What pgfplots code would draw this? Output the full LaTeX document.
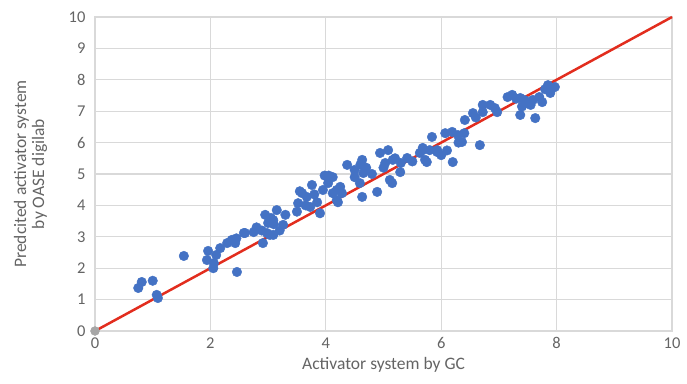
\documentclass[border=0pt]{standalone}
\usepackage{pgfplots}
\pgfplotsset{compat=1.18}
\usepackage{fontspec}
\setmainfont{Carlito}
\definecolor{ptblue}{RGB}{68,114,196}
\definecolor{linered}{RGB}{226,45,30}
\definecolor{gridgray}{RGB}{217,217,217}
\definecolor{txtgray}{RGB}{100,100,100}
\begin{document}
\begin{tikzpicture}
\useasboundingbox (-95pt,-52pt) rectangle (592pt,331pt);
\begin{axis}[
  at={(0,0)}, anchor=south west,
  scale only axis, width=577pt, height=314pt,
  xmin=0, xmax=10, ymin=0, ymax=10,
  xtick={0,2,4,6,8,10}, ytick={0,1,...,10},
  grid=major, major grid style={gridgray, line width=1.2pt},
  axis line style={gridgray, line width=1.2pt},
  tick style={draw=none},
  ticklabel style={font=\fontsize{16.5}{18}\selectfont, text=txtgray},
  /pgf/number format/assume math mode=true,
  xticklabel style={yshift=-3pt},
  yticklabel style={xshift=-6pt},
  xlabel={Activator system by GC},
  ylabel={\begin{tabular}{c}Predcited activator system\\[-1pt] by OASE digilab\end{tabular}},
  xlabel style={font=\fontsize{17.5}{19}\selectfont, text=txtgray, yshift=-2pt},
  ylabel style={font=\fontsize{17.5}{19}\selectfont, text=txtgray, yshift=12pt},
  clip=false,
]
\addplot[linered, line width=2.5pt] coordinates {(0,0) (10,10)};
\addplot[only marks, mark=*, mark size=4.8pt, mark options={fill=ptblue, draw=ptblue}] table {
x y
0.75 1.37
0.81 1.56
1.00 1.60
1.07 1.15
1.09 1.05
1.54 2.39
1.96 2.55
1.94 2.26
2.05 2.00
2.06 2.16
2.10 2.42
2.17 2.64
2.29 2.80
2.37 2.90
2.43 2.80
2.46 1.88
2.58 3.12
2.45 2.95
2.60 3.12
2.80 3.30
2.75 3.15
2.89 3.20
2.91 2.80
2.95 3.70
3.00 3.44
3.03 3.06
3.09 3.53
3.09 3.06
3.15 3.85
3.20 3.20
3.26 3.38
2.98 3.12
3.05 3.60
3.10 3.40
3.30 3.70
3.50 3.80
3.52 4.07
3.59 4.39
3.67 4.27
3.76 4.65
3.73 3.95
3.85 4.10
3.90 3.75
3.95 4.49
4.04 4.71
4.12 4.39
4.21 4.10
4.25 4.59
3.55 4.45
3.65 4.00
3.80 4.35
3.98 4.95
4.05 4.95
4.12 4.90
4.19 4.49
4.19 4.17
4.28 4.39
4.37 5.29
4.50 5.13
4.63 5.45
4.65 5.03
4.59 4.71
4.63 4.27
4.89 4.43
4.50 4.90
4.60 5.30
4.70 5.20
4.80 5.00
4.94 5.67
5.08 5.76
5.03 5.35
5.16 5.45
5.11 4.81
5.15 4.71
5.00 5.20
5.20 5.50
5.30 5.35
5.29 5.06
5.41 5.51
5.50 5.40
5.63 5.67
5.68 5.83
5.80 5.76
5.93 5.70
5.75 5.38
5.68 5.76
5.72 5.45
5.84 6.18
5.93 5.76
6.00 5.60
6.10 5.75
6.07 6.30
6.19 6.34
6.20 5.38
6.29 6.24
6.30 6.00
6.36 6.02
6.40 6.30
6.67 5.92
6.41 6.72
6.55 6.94
6.60 6.80
6.72 6.97
6.97 6.97
7.37 6.88
7.63 6.78
6.72 7.20
6.85 7.20
6.93 7.10
7.15 7.45
7.23 7.52
7.30 7.40
7.37 7.42
7.40 7.15
7.45 7.35
7.49 7.26
7.55 7.20
7.59 7.36
7.70 7.45
7.75 7.29
7.80 7.70
7.85 7.83
7.89 7.58
7.97 7.77
};
\addplot[only marks, mark=*, mark size=4.5pt, mark options={fill=gray!70, draw=gray!70}] coordinates {(0,0)};
\end{axis}
\end{tikzpicture}
\end{document}
